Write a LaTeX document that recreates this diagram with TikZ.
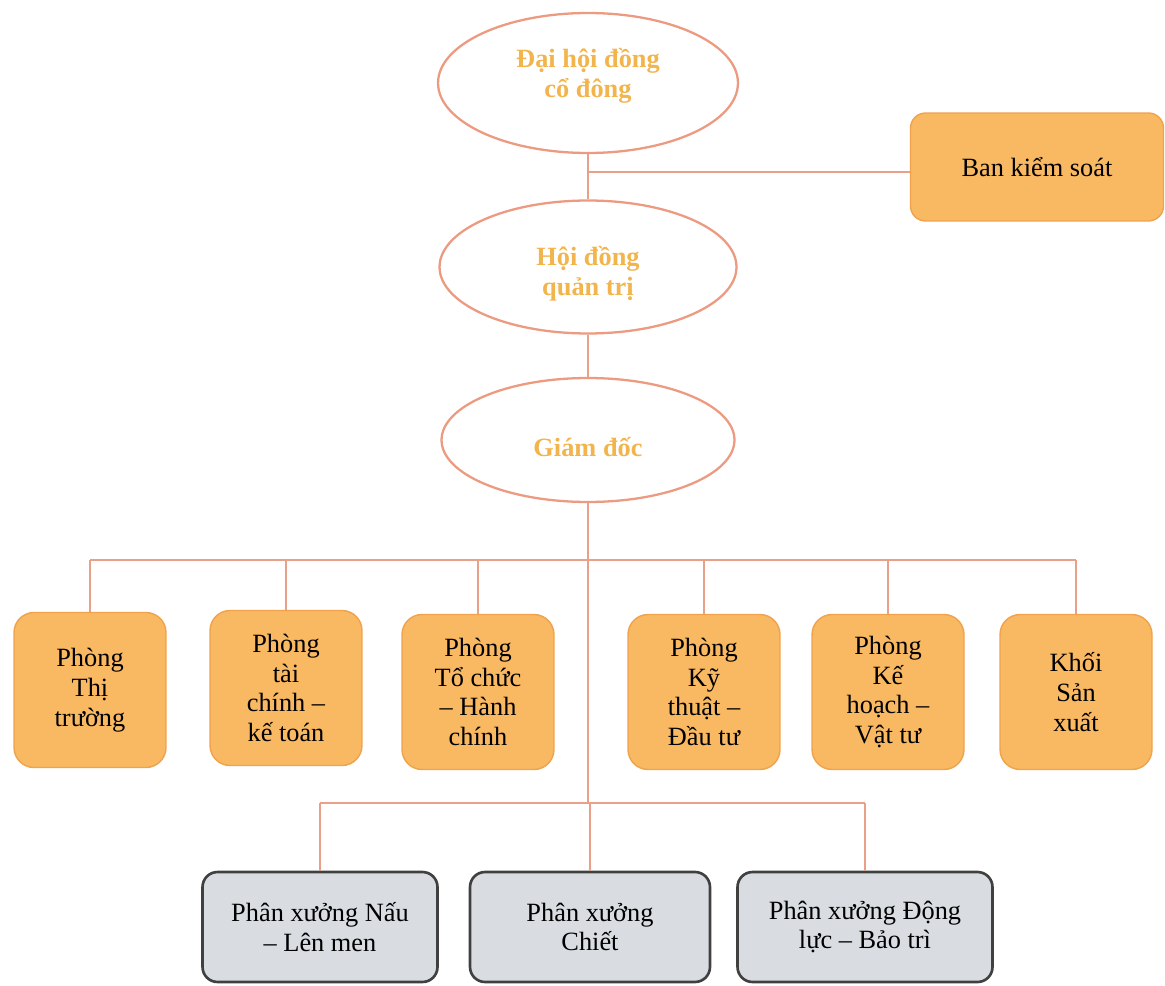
\documentclass[tikz,border=0pt]{standalone}
\usepackage{fontspec}
\setmainfont{Liberation Serif}
\usetikzlibrary{shapes.geometric}
\definecolor{lineorange}{HTML}{E8A088}
\definecolor{ellborder}{HTML}{EC9A80}
\definecolor{elltext}{HTML}{F2B44C}
\definecolor{boxfill}{HTML}{F9B862}
\definecolor{boxborder}{HTML}{F0A24C}
\definecolor{grayfill}{HTML}{D9DDE2}

\begin{document}
\begin{tikzpicture}[x=0.02cm,y=-0.02cm,
    link/.style={draw=lineorange,line width=0.6pt},
    boss/.style={ellipse,draw=ellborder,line width=1.3pt,inner sep=0pt},
    bosstext/.style={align=center,text=elltext,font=\fontsize{15}{17}\selectfont\bfseries},
    dept/.style={rectangle,rounded corners=0.4cm,fill=boxfill,draw=boxborder,line width=0.8pt,
        minimum width=3.04cm,minimum height=3.1cm,align=center,font=\fontsize{15}{17}\selectfont},
    shop/.style={rectangle,rounded corners=0.3cm,fill=grayfill,draw=black!75,line width=1.5pt,
        minimum height=2.2cm,align=center,font=\fontsize{15}{17}\selectfont}]
    \useasboundingbox (0,0) rectangle (1165,986);
    % top levels
    \node[boss,minimum width=6cm,minimum height=2.8cm,
        label={[bosstext,yshift=4pt]center:{Đại hội đồng\\cổ đông}}] (dhdcd) at (588,83) {};
    \node[boss,minimum width=5.94cm,minimum height=2.66cm,
        label={[bosstext,yshift=-4pt]center:{Hội đồng\\quản trị}}] (hdqt) at (588,267) {};
    \node[boss,minimum width=5.86cm,minimum height=2.48cm,
        label={[bosstext,yshift=-4pt]center:{Giám đốc}}] (gd) at (588,440) {};
    \node[dept,minimum width=5.06cm,minimum height=2.16cm,rounded corners=0.3cm] (bks) at (1037,167) {Ban kiểm soát};
    \coordinate (kbr) at (588,172);
    \coordinate (bus1) at (588,560);
    \coordinate (bus2) at (588,803);
    % departments
    \node[dept] (tt) at (90,690) {Phòng\\Thị\\trường};
    \node[dept] (tckt) at (286,688) {Phòng\\tài\\chính –\\kế toán};
    \node[dept] (tchc) at (478,692) {Phòng\\Tổ chức\\– Hành\\chính};
    \node[dept] (ktdt) at (704,692) {Phòng\\Kỹ\\thuật –\\Đầu tư};
    \node[dept] (khvt) at (888,692) {Phòng\\Kế\\hoạch –\\Vật tư};
    \node[dept] (ksx) at (1076,692) {Khối\\Sản\\xuất};
    % workshops
    \node[shop,minimum width=4.7cm] (pxn) at (320,927) {Phân xưởng Nấu\\– Lên men};
    \node[shop,minimum width=4.8cm] (pxc) at (590,927) {Phân xưởng\\Chiết};
    \node[shop,minimum width=5.1cm] (pxd) at (865,927) {Phân xưởng Động\\lực – Bảo trì};
    % connectors
    \draw[link] (dhdcd) -- (hdqt);
    \draw[link] (hdqt) -- (gd);
    \draw[link] (gd) -- (bus2);
    \draw[link] (kbr) -- (kbr -| bks.west);
    \draw[link] (tt.north |- bus1) -- (ksx.north |- bus1);
    \foreach \d in {tt,tckt,tchc,ktdt,khvt,ksx}
        \draw[link] (\d.north |- bus1) -- (\d.north);
    \draw[link] (pxn.north |- bus2) -- (pxd.north |- bus2);
    \foreach \s in {pxn,pxc,pxd}
        \draw[link] (\s.north |- bus2) -- (\s.north);
\end{tikzpicture}
\end{document}
